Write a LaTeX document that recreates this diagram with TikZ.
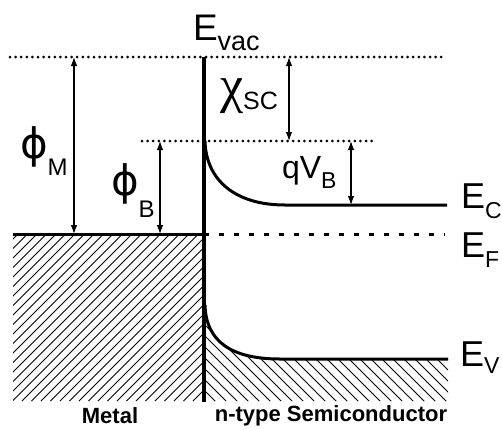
\documentclass[tikz,border=0pt]{standalone}
\usepackage{fontspec}
\setmainfont{Liberation Sans}
\newfontfamily\dvs{DejaVu Sans}
\newfontfamily\lsr{Liberation Serif}
\usetikzlibrary{arrows.meta}
\newcommand{\twolab}[5]{{\fontsize{#1}{#1}\selectfont #2}\raisebox{#5}{\fontsize{#3}{#3}\selectfont #4}}
\begin{document}
\begin{tikzpicture}[x=1pt,y=-1pt,
  band/.style={line width=3pt},
  dotline/.style={line width=3pt, line cap=round, dash pattern=on 0pt off 5.6pt},
  fermi/.style={line width=3pt, dash pattern=on 5pt off 10pt},
  dim/.style={line width=1.1pt, {Latex[length=9pt,width=6.5pt]}-{Latex[length=9pt,width=6.5pt]}},
  hatch/.style={line width=0.8pt},
  lab/.style={anchor=base west, inner sep=0pt, outer sep=0pt},
  captxt/.style={inner sep=0pt, font=\bfseries\fontsize{22}{22}\selectfont}]
\useasboundingbox (0,0) rectangle (502,429);
% coordinates
\coordinate (vacL) at (10,57);
\coordinate (vacR) at (443,57);
\coordinate (cbL) at (142,141);
\coordinate (cbR) at (377,141);
\coordinate (efL) at (13,234);
\coordinate (iface) at (204,234);
\coordinate (efR) at (445,234);
\coordinate (ifTop) at (204,57);
\coordinate (ifBot) at (204,402);
\coordinate (ecS) at (205,141);
\coordinate (ecE) at (285,205);
\coordinate (ecR) at (447,205);
\coordinate (evS) at (205,305);
\coordinate (evE) at (280,359);
\coordinate (evR) at (448,359);
% hatching metal
\begin{scope}
\clip (13,234) rectangle (204,401);
\foreach \i in {-200,-190.5,...,200} \draw[hatch] (13+\i,401) -- ++(200,-200);
\end{scope}
% hatching semiconductor
\begin{scope}
\clip (evS) .. controls (206,342) and (232,359) .. (evE) -- (evR) -- (448,401) -- (204,401) -- cycle;
\foreach \i in {60,71,...,460} \draw[hatch] (\i,290) -- ++(120,120);
\end{scope}
% levels
\draw[dotline] (vacL) -- (vacR);
\draw[dotline] (cbL) -- (cbR);
\draw[band] (efL) -- (iface);
\draw[fermi] (iface) -- (efR);
\draw[band] (ecS) .. controls (206,180) and (235,205) .. (ecE) -- (ecR);
\draw[band] (evS) .. controls (206,342) and (232,359) .. (evE) -- (evR);
\draw[line width=3.5pt] (ifTop) -- (ifBot);
% dimension arrows
\coordinate (pmT) at (74,57);  \coordinate (pmB) at (74,234);
\coordinate (pbT) at (160,141); \coordinate (pbB) at (160,234);
\coordinate (chT) at (289,57); \coordinate (chB) at (289,141);
\coordinate (qvT) at (351,141); \coordinate (qvB) at (351,205);
\draw[dim] (pmT) -- (pmB);
\draw[dim] (pbT) -- (pbB);
\draw[dim] (chT) -- (chB);
\draw[dim] (qvT) -- (qvB);
% labels
\node[lab] (Evac) at (193,40) {\twolab{37}{E}{27}{vac}{-10pt}};
\node[lab] (phiM) at (20,158) {\twolab{42}{\dvs ϕ}{24}{M}{-17pt}};
\node[lab] (phiB) at (111,195) {\twolab{42}{\dvs ϕ}{24}{B}{-22pt}};
\node[lab] (chi) at (220,102) {\twolab{52}{\lsr χ}{25}{SC}{-7pt}};
\node[lab] (qVB) at (282,178) {\twolab{32}{qV}{23}{B}{-10pt}};
\node[lab] (EC) at (461,208) {\twolab{36}{E}{23}{C}{-10pt}};
\node[lab] (EF) at (461,257) {\twolab{36}{E}{23}{F}{-10pt}};
\node[lab] (EV) at (460,366) {\twolab{36}{E}{23}{V}{-7pt}};
\node[captxt] (metal) at (110,416) {Metal};
\node[captxt] (semi) at (331,416) {n-type Semiconductor};
\end{tikzpicture}
\end{document}
